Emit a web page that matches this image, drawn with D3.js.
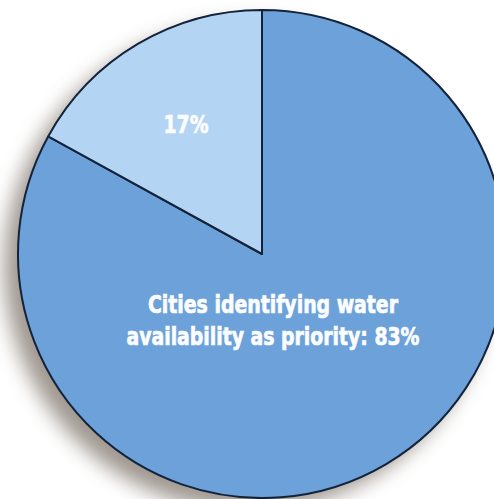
<!DOCTYPE html>
<html><head><meta charset="utf-8">
<script src="https://cdn.jsdelivr.net/npm/d3@7"></script>
<style>
html,body{margin:0;padding:0;background:#fff;overflow:hidden;}
svg{display:block;}
</style></head>
<body>
<svg id="chart" width="494" height="499"></svg>
<script>
const categories = ["Cities identifying water availability as priority", "Other cities"];
const values = [83, 17];
const labels = [["Cities identifying water", "availability as priority: 83%"], ["17%"]];
const colors = ["#6ca1da", "#b3d4f3"];

const W = 494, H = 499;
const cx = 262, cy = 254, R = 244;
const svg = d3.select("#chart");

const defs = svg.append("defs");
const f = defs.append("filter").attr("id", "shadow")
  .attr("x", "-20%").attr("y", "-20%").attr("width", "140%").attr("height", "140%");
f.append("feGaussianBlur").attr("in", "SourceAlpha").attr("stdDeviation", 10).attr("result", "b");
f.append("feOffset").attr("in", "b").attr("dx", -14).attr("dy", 13).attr("result", "o");
f.append("feComponentTransfer").attr("in", "o").attr("result", "c")
  .append("feFuncA").attr("type", "linear").attr("slope", 0.85);
f.append("feFlood").attr("flood-color", "#8e857c").attr("result", "fl");
f.append("feComposite").attr("in", "fl").attr("in2", "c").attr("operator", "in").attr("result", "sh");
const m = f.append("feMerge");
m.append("feMergeNode").attr("in", "sh");
m.append("feMergeNode").attr("in", "SourceGraphic");

const data = categories.map((c, i) => ({ name: c, value: values[i], color: colors[i], label: labels[i] }));

const pie = d3.pie().value(d => d.value).sort(null).startAngle(0).endAngle(2 * Math.PI);
const arcs = pie(data);
const arc = d3.arc().innerRadius(0).outerRadius(R);

const g = svg.append("g").attr("transform", `translate(${cx},${cy})`);
g.append("circle").attr("r", R).attr("fill", colors[0]).attr("filter", "url(#shadow)");

g.selectAll("path.slice").data(arcs).join("path")
  .attr("class", "slice")
  .attr("d", arc)
  .attr("fill", d => d.data.color)
  .attr("stroke", "#14233a")
  .attr("stroke-width", 2)
  .attr("stroke-linejoin", "round");

const font = "'DejaVu Sans Condensed','DejaVu Sans',sans-serif";
const widths = [[250, 293], [45]];

g.selectAll("text.big").data(arcs[0].data.label).join("text")
  .attr("class", "big")
  .attr("text-anchor", "middle")
  .attr("fill", "#fbfdff")
  .attr("stroke", "#fbfdff")
  .attr("stroke-width", 0.7)
  .attr("font-family", font)
  .attr("font-weight", "bold")
  .attr("font-size", 25)
  .attr("x", 11)
  .attr("y", (d, i) => 59 + i * 32)
  .attr("textLength", (d, i) => widths[0][i])
  .attr("lengthAdjust", "spacingAndGlyphs")
  .text(d => d);

g.append("text")
  .attr("text-anchor", "middle")
  .attr("fill", "#fbfdff")
  .attr("stroke", "#fbfdff")
  .attr("stroke-width", 0.7)
  .attr("font-family", font)
  .attr("font-weight", "bold")
  .attr("font-size", 25)
  .attr("x", -76)
  .attr("y", -121)
  .attr("textLength", widths[1][0])
  .attr("lengthAdjust", "spacingAndGlyphs")
  .text(arcs[1].data.label[0]);
</script>
</body></html>
